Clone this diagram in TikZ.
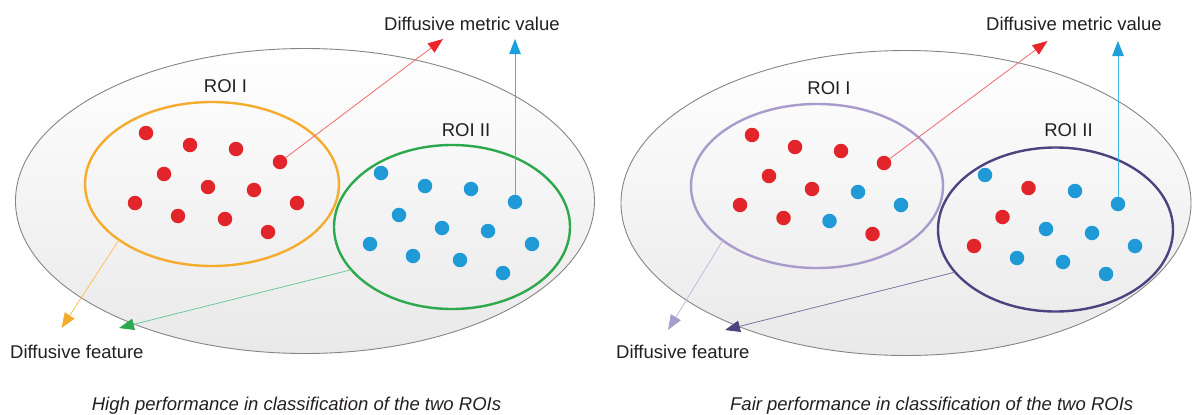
\documentclass[tikz,border=0pt]{standalone}
\usepackage{fontspec}
\setmainfont{Liberation Sans}
\usetikzlibrary{arrows.meta,shapes.geometric}

\definecolor{txt}{HTML}{231F20}
\definecolor{rim}{HTML}{858585}
\definecolor{dotred}{HTML}{E1252B}
\definecolor{dotblue}{HTML}{1F9AD6}
\definecolor{roiorange}{HTML}{F5AC2E}
\definecolor{roigreen}{HTML}{2DA84C}
\definecolor{roililac}{HTML}{A99BCB}
\definecolor{roiviolet}{HTML}{4E4381}
\definecolor{linered}{HTML}{F06A70}
\definecolor{lineblue}{HTML}{3DB5E6}
\definecolor{lineorange}{HTML}{F7C25C}
\definecolor{linegreen}{HTML}{6CCB94}
\definecolor{linelilac}{HTML}{C3B9DC}
\definecolor{lineviolet}{HTML}{7D73A3}
\definecolor{headred}{HTML}{E8262B}
\definecolor{headblue}{HTML}{1BA0DC}
\definecolor{shadelow}{HTML}{E9E9E9}

\begin{document}
\begin{tikzpicture}[x=1pt,y=1pt,
  lbl/.style={font=\fontsize{18.5}{22}\selectfont, text=txt, inner sep=0pt},
  captiontext/.style={lbl, font=\fontsize{18.5}{22}\selectfont\itshape},
  space/.style={ellipse, draw=rim, line width=0.9pt, top color=white,
    bottom color=shadelow, inner sep=0pt, outer sep=0pt,
    minimum height=305pt},
  roi/.style={ellipse, line width=2.4pt, inner sep=0pt, outer sep=0pt,
    minimum height=164pt},
  dot/.style={circle, inner sep=0pt, outer sep=0pt, minimum size=14.5pt},
  rdot/.style={dot, fill=dotred},
  bdot/.style={dot, fill=dotblue},
  link/.style={line width=0.8pt},
  head/.style={-{Triangle[length=15pt,width=11.5pt,color=#1]}},
]
\useasboundingbox (0,0) rectangle (1192,-415);

% ---------------- left panel ----------------
\node[space, minimum width=579pt] (spaceL) at (305,-201) {};
\node[roi, draw=roiorange, minimum width=254pt] (roiAL) at (212,-184) {};
\node[roi, draw=roigreen, minimum width=236pt] (roiBL) at (452,-227) {};

\node[lbl, anchor=base] (roiALt) at (225.5,-92) {ROI I};
\node[lbl, anchor=base] (roiBLt) at (466,-136) {ROI II};
\node[lbl, anchor=base west] (mvLt) at (384,-30.5) {Diffusive metric value};
\node[lbl, anchor=base west] (dfLt) at (10,-358) {Diffusive feature};
\node[captiontext, anchor=base] (capL) at (296.5,-410.5) {High performance in classification of the two ROIs};

\coordinate (mvL1) at (443,-39);
\coordinate (mvL2) at (515,-39);
\coordinate (dfL1) at (61.5,-328);
\coordinate (dfL2) at (119,-328);

% points of ROI I
\node[rdot] (La1) at (146,-133) {};
\node[rdot] (La2) at (190,-145) {};
\node[rdot] (La3) at (236,-149) {};
\node[rdot] (La4) at (280,-162) {};
\node[rdot] (La5) at (164,-174) {};
\node[rdot] (La6) at (208,-187) {};
\node[rdot] (La7) at (254,-190) {};
\node[rdot] (La8) at (297,-203) {};
\node[rdot] (La9) at (135,-203) {};
\node[rdot] (La10) at (178,-216) {};
\node[rdot] (La11) at (225,-219) {};
\node[rdot] (La12) at (268,-232) {};
% points of ROI II
\node[bdot] (Lb1) at (381,-173) {};
\node[bdot] (Lb2) at (425,-186) {};
\node[bdot] (Lb3) at (471,-189) {};
\node[bdot] (Lb4) at (515,-202) {};
\node[bdot] (Lb5) at (399,-215) {};
\node[bdot] (Lb6) at (442,-228) {};
\node[bdot] (Lb7) at (488,-231) {};
\node[bdot] (Lb8) at (532,-244) {};
\node[bdot] (Lb9) at (370,-244) {};
\node[bdot] (Lb10) at (413,-256) {};
\node[bdot] (Lb11) at (460,-260) {};
\node[bdot] (Lb12) at (503,-273) {};

\draw[link, draw=linered, head=headred] (La4) -- (mvL1);
\draw[link, draw=lineblue, head=headblue] (Lb4) -- (mvL2);
\draw[link, draw=lineorange, head=roiorange] (roiAL.211) -- (dfL1);
\draw[link, draw=linegreen, head=roigreen] (roiBL.203) -- (dfL2);

% ---------------- right panel ----------------
\node[space, minimum width=570pt] (spaceR) at (906,-203) {};
\node[roi, draw=roililac, minimum width=252pt] (roiAR) at (817,-186) {};
\node[roi, draw=roiviolet, minimum width=235pt] (roiBR) at (1055.5,-229.5) {};

\node[lbl, anchor=base] (roiARt) at (829,-94) {ROI I};
\node[lbl, anchor=base] (roiBRt) at (1068.5,-136) {ROI II};
\node[lbl, anchor=base west] (mvRt) at (986,-30.5) {Diffusive metric value};
\node[lbl, anchor=base west] (dfRt) at (616,-358) {Diffusive feature};
\node[captiontext, anchor=base] (capR) at (931.7,-410.5) {Fair performance in classification of the two ROIs};

\coordinate (mvR1) at (1047.5,-41);
\coordinate (mvR2) at (1118,-41);
\coordinate (dfR1) at (668,-330);
\coordinate (dfR2) at (725,-330);

% points of ROI I
\node[rdot] (Ra1) at (752,-135) {};
\node[rdot] (Ra2) at (795,-147) {};
\node[rdot] (Ra3) at (841,-151) {};
\node[rdot] (Ra4) at (884,-163) {};
\node[rdot] (Ra5) at (769,-176) {};
\node[rdot] (Ra6) at (812,-189) {};
\node[bdot] (Ra7) at (858,-192) {};
\node[bdot] (Ra8) at (901,-205) {};
\node[rdot] (Ra9) at (740,-205) {};
\node[rdot] (Ra10) at (783.5,-218) {};
\node[bdot] (Ra11) at (829.5,-221) {};
\node[rdot] (Ra12) at (872.5,-234) {};
% points of ROI II
\node[bdot] (Rb1) at (985,-175) {};
\node[rdot] (Rb2) at (1028.5,-188) {};
\node[bdot] (Rb3) at (1075,-191) {};
\node[bdot] (Rb4) at (1118,-204) {};
\node[rdot] (Rb5) at (1002.5,-217) {};
\node[bdot] (Rb6) at (1046,-229) {};
\node[bdot] (Rb7) at (1092,-233) {};
\node[bdot] (Rb8) at (1135,-246) {};
\node[rdot] (Rb9) at (974,-246) {};
\node[bdot] (Rb10) at (1017,-258) {};
\node[bdot] (Rb11) at (1063,-262) {};
\node[bdot] (Rb12) at (1106,-274) {};

\draw[link, draw=linered, head=headred] (Ra4) -- (mvR1);
\draw[link, draw=lineblue, head=headblue] (Rb4) -- (mvR2);
\draw[link, draw=linelilac, head=roililac] (roiAR.210) -- (dfR1);
\draw[link, draw=lineviolet, head=roiviolet] (roiBR.203) -- (dfR2);
\end{tikzpicture}
\end{document}
